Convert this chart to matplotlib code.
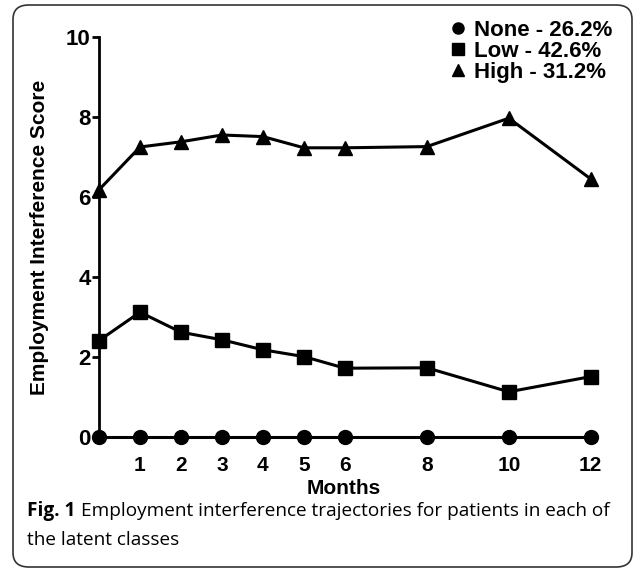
import matplotlib
matplotlib.use("Agg")
import matplotlib.pyplot as plt
from matplotlib.patches import FancyBboxPatch

plt.rcParams['font.family'] = ['Liberation Sans', 'DejaVu Sans']

months = [0, 1, 2, 3, 4, 5, 6, 8, 10, 12]
xtick_months = [1, 2, 3, 4, 5, 6, 8, 10, 12]
none_vals = [0, 0, 0, 0, 0, 0, 0, 0, 0, 0]
low_vals  = [2.41, 3.12, 2.62, 2.43, 2.18, 2.01, 1.72, 1.73, 1.13, 1.51]
high_vals = [6.18, 7.25, 7.38, 7.55, 7.51, 7.23, 7.23, 7.26, 7.97, 6.45]
labels = ['None - 26.2%', 'Low - 42.6%', 'High - 31.2%']
markers = ['o', 's', '^']
caption_bold = 'Fig. 1'
caption_line1 = 'Employment interference trajectories for patients in each of'
caption_line2 = 'the latent classes'

W, H = 634, 571
fig = plt.figure(figsize=(W / 100, H / 100), dpi=100)

# rounded frame round the whole figure
frame = FancyBboxPatch((13 / W, 4 / H), 619 / W, 562 / H,
                       boxstyle="round,pad=0,rounding_size=0.025",
                       transform=fig.transFigure, fill=False,
                       ec='#333333', lw=1.2)
fig.patches.append(frame)

ax = fig.add_axes([99 / W, 1 - 437 / H, 500 / W, 400 / H])
for vals, m, lab in zip([none_vals, low_vals, high_vals], markers, labels):
    ax.plot(months, vals, color='black', lw=2.2, marker=m, ms=10,
            label=lab, clip_on=False, zorder=3)

ax.set_xlim(0, 12.2)
ax.set_ylim(0, 10)
ax.set_yticks([0, 2, 4, 6, 8, 10])
ax.set_xticks(xtick_months)
ax.spines['top'].set_visible(False)
ax.spines['right'].set_visible(False)
ax.spines['bottom'].set_visible(False)
ax.spines['left'].set_linewidth(2)
ax.tick_params(axis='y', length=5, width=2, labelsize=16, pad=1)
ax.tick_params(axis='x', length=0, labelsize=15, pad=14)
for t in ax.get_xticklabels() + ax.get_yticklabels():
    t.set_fontweight('bold')

ax.set_xlabel('Months', fontsize=15, fontweight='bold')
ax.xaxis.set_label_coords(0.49, -0.105)
ax.set_ylabel('Employment Interference Score', fontsize=15, fontweight='bold', labelpad=12)

leg = ax.legend(loc='upper right', bbox_to_anchor=(1.045, 1.065), frameon=False,
                prop={'weight': 'bold', 'size': 16}, handlelength=0.5,
                handletextpad=0.5, labelspacing=0.0, markerscale=0.8,
                borderaxespad=0)
for h in leg.legend_handles:
    h.set_linestyle('none')

cap_size = 13.7
y1 = 1 - 511 / H
t_bold = fig.text(27 / W, y1, caption_bold, fontsize=cap_size, va='center',
                  family='Open Sans', fontweight='bold')
fig.canvas.draw()
bb = t_bold.get_window_extent()
fig.text((bb.x1 + 6) / W, y1, caption_line1, fontsize=cap_size, va='center',
         family='Open Sans')
fig.text(27 / W, 1 - 540 / H, caption_line2, fontsize=cap_size,
         va='center', family='Open Sans')

fig.savefig('out.png', dpi=100)
